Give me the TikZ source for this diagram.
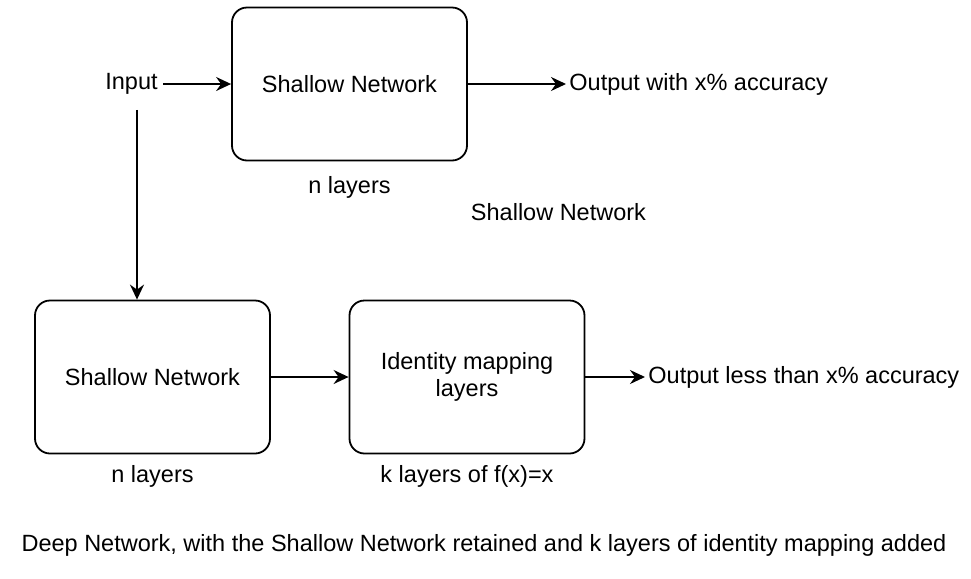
\documentclass[tikz,border=0pt]{standalone}
\usepackage{fontspec}
\setmainfont{Liberation Sans}
\usetikzlibrary{arrows.meta}
\begin{document}
\begin{tikzpicture}[x=0.5pt, y=-0.5pt,
  every node/.style = {font=\fontsize{11.75}{13.5}\selectfont, inner sep=1.5pt},
  netbox/.style = {draw, line width=0.9pt, rounded corners=7.5pt,
                   minimum width=117.5pt, minimum height=76.5pt, align=center},
  conn/.style = {line width=0.9pt, -{Stealth[length=7.5pt, width=7pt, inset=2.5pt]}}]
  \useasboundingbox (0,0) rectangle (971,579);

  \node[netbox] (sn1) at (349.5,84) {Shallow Network};
  \node (input) at (131.5,84) {Input};
  \node[anchor=west] (out1) at (566,84) {Output with x\% accuracy};
  \node (nl1) at (349.5,187) {n layers};
  \node (cap1) at (558.5,212) {Shallow Network};

  \node[netbox] (sn2) at (152.5,377) {Shallow Network};
  \node[netbox] (idm) at (467,377) {Identity mapping\\layers};
  \node[anchor=west] (out2) at (645,377) {Output less than x\% accuracy};
  \node (nl2) at (152.5,476) {n layers};
  \node (kl) at (467,476) {k layers of f(x)=x};
  \node (cap2) at (484,545) {Deep Network, with the Shallow Network retained and k layers of identity mapping added};

  \draw[conn, shorten <=1pt] (input) -- (sn1);
  \draw[conn] (sn1) -- (out1);
  \draw[conn, shorten <=6pt] ([xshift=2.75pt]input.south) -- ([xshift=2.75pt]input.south |- sn2.north);
  \draw[conn] (sn2) -- (idm);
  \draw[conn] (idm) -- (out2);
\end{tikzpicture}
\end{document}
